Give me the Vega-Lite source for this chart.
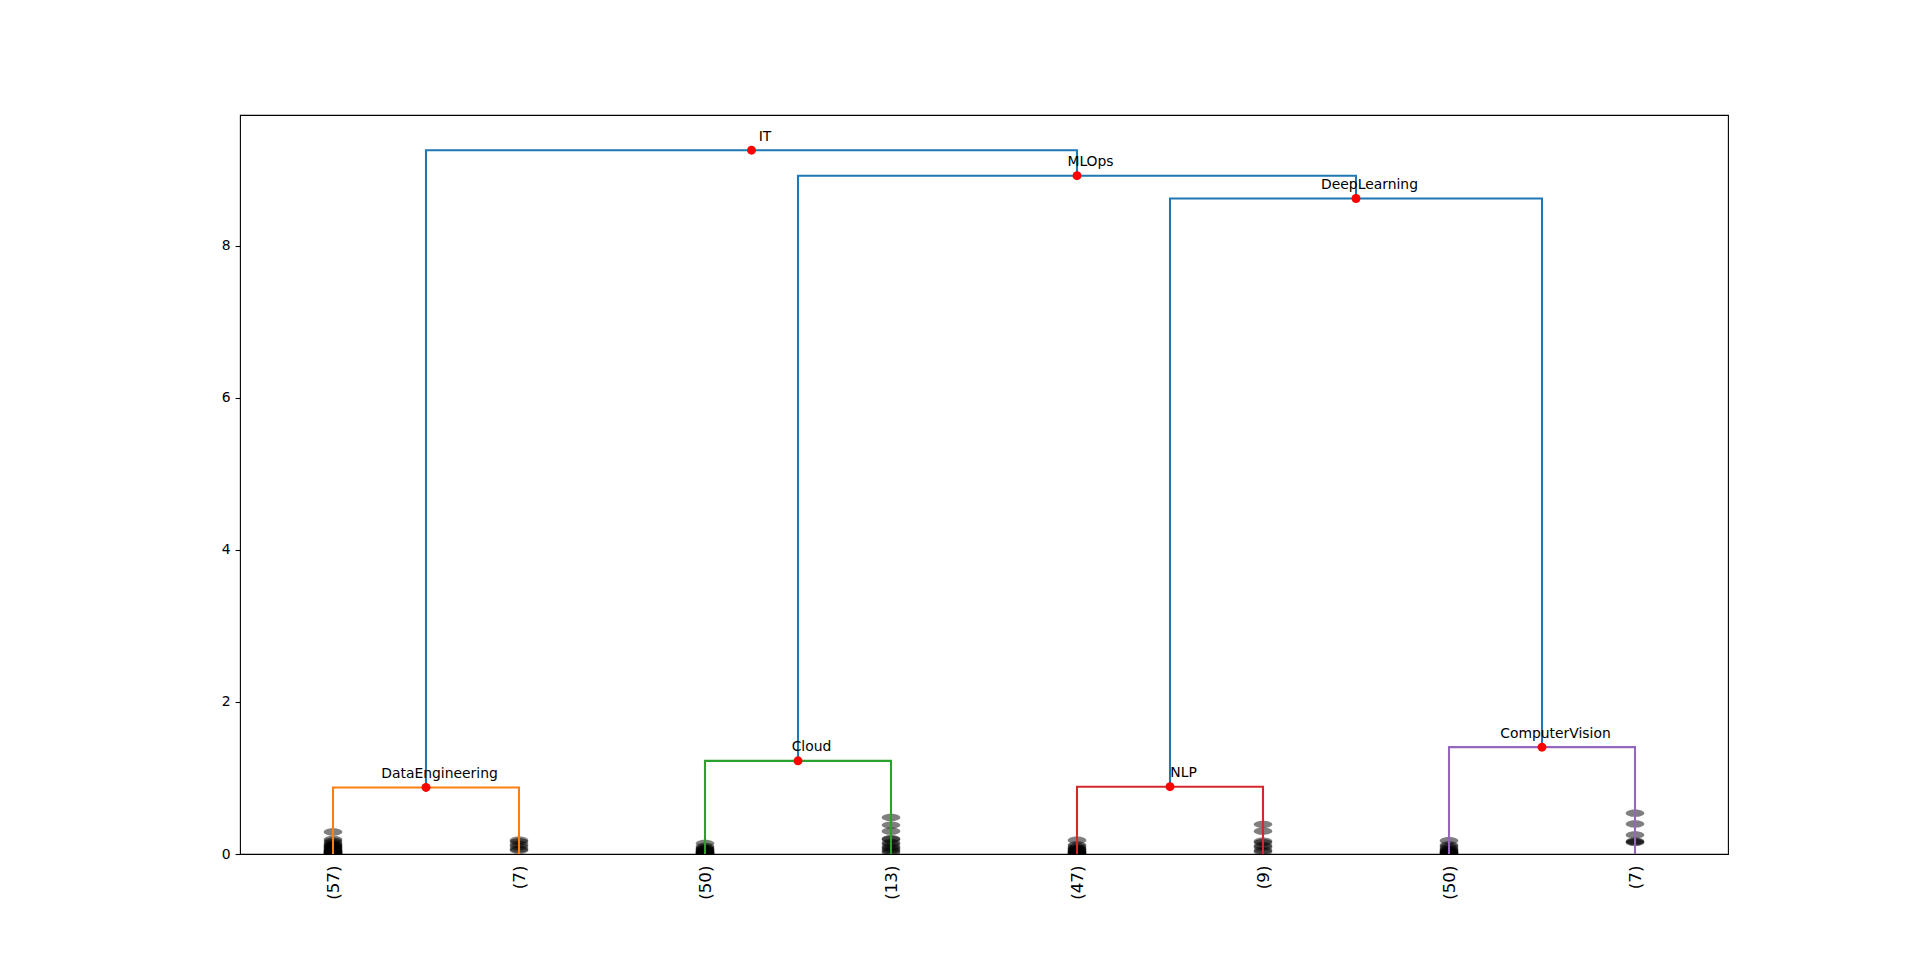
{
  "$schema": "https://vega.github.io/schema/vega-lite/v6.json",
  "autosize": {"type": "none"},
  "padding": {"left": 240, "top": 115, "right": 192, "bottom": 105},
  "width": 1488,
  "height": 739,
  "background": "white",
  "config": {
    "view": {"stroke": "#000000", "strokeWidth": 1.1},
    "font": "DejaVu Sans"
  },
  "datasets": {
    "links": [
      {"link": "DataEngineering", "ord": 1, "x": 5, "y": 0, "grp": "c1"},
      {"link": "DataEngineering", "ord": 2, "x": 5, "y": 0.875, "grp": "c1"},
      {"link": "DataEngineering", "ord": 3, "x": 15, "y": 0.875, "grp": "c1"},
      {"link": "DataEngineering", "ord": 4, "x": 15, "y": 0, "grp": "c1"},
      {"link": "Cloud", "ord": 1, "x": 25, "y": 0, "grp": "c2"},
      {"link": "Cloud", "ord": 2, "x": 25, "y": 1.225, "grp": "c2"},
      {"link": "Cloud", "ord": 3, "x": 35, "y": 1.225, "grp": "c2"},
      {"link": "Cloud", "ord": 4, "x": 35, "y": 0, "grp": "c2"},
      {"link": "NLP", "ord": 1, "x": 45, "y": 0, "grp": "c3"},
      {"link": "NLP", "ord": 2, "x": 45, "y": 0.885, "grp": "c3"},
      {"link": "NLP", "ord": 3, "x": 55, "y": 0.885, "grp": "c3"},
      {"link": "NLP", "ord": 4, "x": 55, "y": 0, "grp": "c3"},
      {"link": "ComputerVision", "ord": 1, "x": 65, "y": 0, "grp": "c4"},
      {"link": "ComputerVision", "ord": 2, "x": 65, "y": 1.405, "grp": "c4"},
      {"link": "ComputerVision", "ord": 3, "x": 75, "y": 1.405, "grp": "c4"},
      {"link": "ComputerVision", "ord": 4, "x": 75, "y": 0, "grp": "c4"},
      {"link": "DeepLearning", "ord": 1, "x": 50, "y": 0.885, "grp": "c0"},
      {"link": "DeepLearning", "ord": 2, "x": 50, "y": 8.62, "grp": "c0"},
      {"link": "DeepLearning", "ord": 3, "x": 70, "y": 8.62, "grp": "c0"},
      {"link": "DeepLearning", "ord": 4, "x": 70, "y": 1.405, "grp": "c0"},
      {"link": "MLOps", "ord": 1, "x": 30, "y": 1.225, "grp": "c0"},
      {"link": "MLOps", "ord": 2, "x": 30, "y": 8.92, "grp": "c0"},
      {"link": "MLOps", "ord": 3, "x": 60, "y": 8.92, "grp": "c0"},
      {"link": "MLOps", "ord": 4, "x": 60, "y": 8.62, "grp": "c0"},
      {"link": "IT", "ord": 1, "x": 10, "y": 0.875, "grp": "c0"},
      {"link": "IT", "ord": 2, "x": 10, "y": 9.255, "grp": "c0"},
      {"link": "IT", "ord": 3, "x": 45, "y": 9.255, "grp": "c0"},
      {"link": "IT", "ord": 4, "x": 45, "y": 8.92, "grp": "c0"}
    ],
    "nodes": [
      {"name": "DataEngineering", "x": 10, "y": 0.875},
      {"name": "Cloud", "x": 30, "y": 1.225},
      {"name": "NLP", "x": 50, "y": 0.885},
      {"name": "ComputerVision", "x": 70, "y": 1.405},
      {"name": "DeepLearning", "x": 60, "y": 8.62},
      {"name": "MLOps", "x": 45, "y": 8.92},
      {"name": "IT", "x": 27.5, "y": 9.255}
    ],
    "contractions": [
      {"x": 5, "y": 0.29}, {"x": 5, "y": 0.19}, {"x": 5, "y": 0.17}, {"x": 5, "y": 0.15},
      {"x": 5, "y": 0.13}, {"x": 5, "y": 0.12}, {"x": 5, "y": 0.11}, {"x": 5, "y": 0.1},
      {"x": 5, "y": 0.09}, {"x": 5, "y": 0.08}, {"x": 5, "y": 0.07}, {"x": 5, "y": 0.06},
      {"x": 5, "y": 0.05}, {"x": 5, "y": 0.04}, {"x": 5, "y": 0.04}, {"x": 5, "y": 0.03},
      {"x": 5, "y": 0.03}, {"x": 5, "y": 0.02}, {"x": 5, "y": 0.02}, {"x": 5, "y": 0.01},
      {"x": 5, "y": 0.01}, {"x": 5, "y": 0.0}, {"x": 5, "y": 0.0},
      {"x": 15, "y": 0.18}, {"x": 15, "y": 0.16}, {"x": 15, "y": 0.125}, {"x": 15, "y": 0.1},
      {"x": 15, "y": 0.065}, {"x": 15, "y": 0.05},
      {"x": 25, "y": 0.14}, {"x": 25, "y": 0.1}, {"x": 25, "y": 0.08}, {"x": 25, "y": 0.07},
      {"x": 25, "y": 0.06}, {"x": 25, "y": 0.05}, {"x": 25, "y": 0.04}, {"x": 25, "y": 0.03},
      {"x": 25, "y": 0.03}, {"x": 25, "y": 0.02}, {"x": 25, "y": 0.02}, {"x": 25, "y": 0.01},
      {"x": 25, "y": 0.01}, {"x": 25, "y": 0.0}, {"x": 25, "y": 0.0},
      {"x": 35, "y": 0.48}, {"x": 35, "y": 0.38}, {"x": 35, "y": 0.3}, {"x": 35, "y": 0.2},
      {"x": 35, "y": 0.19}, {"x": 35, "y": 0.15}, {"x": 35, "y": 0.13}, {"x": 35, "y": 0.1},
      {"x": 35, "y": 0.08}, {"x": 35, "y": 0.06}, {"x": 35, "y": 0.04}, {"x": 35, "y": 0.02},
      {"x": 45, "y": 0.18}, {"x": 45, "y": 0.12}, {"x": 45, "y": 0.1}, {"x": 45, "y": 0.08},
      {"x": 45, "y": 0.07}, {"x": 45, "y": 0.06}, {"x": 45, "y": 0.05}, {"x": 45, "y": 0.04},
      {"x": 45, "y": 0.03}, {"x": 45, "y": 0.02}, {"x": 45, "y": 0.02}, {"x": 45, "y": 0.01},
      {"x": 45, "y": 0.01}, {"x": 45, "y": 0.0},
      {"x": 55, "y": 0.39}, {"x": 55, "y": 0.3}, {"x": 55, "y": 0.17}, {"x": 55, "y": 0.15},
      {"x": 55, "y": 0.11}, {"x": 55, "y": 0.09}, {"x": 55, "y": 0.05}, {"x": 55, "y": 0.03},
      {"x": 65, "y": 0.175}, {"x": 65, "y": 0.12}, {"x": 65, "y": 0.1}, {"x": 65, "y": 0.08},
      {"x": 65, "y": 0.06}, {"x": 65, "y": 0.05}, {"x": 65, "y": 0.04}, {"x": 65, "y": 0.03},
      {"x": 65, "y": 0.02}, {"x": 65, "y": 0.02}, {"x": 65, "y": 0.01}, {"x": 65, "y": 0.01},
      {"x": 65, "y": 0.0},
      {"x": 75, "y": 0.535}, {"x": 75, "y": 0.395}, {"x": 75, "y": 0.25}, {"x": 75, "y": 0.17},
      {"x": 75, "y": 0.16}, {"x": 75, "y": 0.15}
    ]
  },
  "encoding": {
    "x": {
      "field": "x",
      "type": "quantitative",
      "scale": {"domain": [0, 80], "nice": false, "zero": false},
      "axis": {
        "title": null,
        "values": [5, 15, 25, 35, 45, 55, 65, 75],
        "labelExpr": "datum.value == 5 ? '(57)' : datum.value == 15 ? '(7)' : datum.value == 25 ? '(50)' : datum.value == 35 ? '(13)' : datum.value == 45 ? '(47)' : datum.value == 55 ? '(9)' : datum.value == 65 ? '(50)' : '(7)'",
        "labelAngle": 270,
        "labelAlign": "right",
        "labelBaseline": "middle",
        "labelFont": "DejaVu Sans",
        "labelFontSize": 16.7,
        "labelColor": "#000000",
        "labelPadding": 11,
        "ticks": false,
        "domain": false,
        "grid": false,
        "labelOverlap": false,
        "labelFlush": false
      }
    },
    "y": {
      "field": "y",
      "type": "quantitative",
      "scale": {"domain": [0, 9.718], "nice": false, "zero": false},
      "axis": {
        "title": null,
        "values": [0, 2, 4, 6, 8],
        "labelFont": "DejaVu Sans",
        "labelFontSize": 13.9,
        "labelColor": "#000000",
        "tickColor": "#000000",
        "tickSize": 4.9,
        "tickWidth": 1.1,
        "labelPadding": 4.9,
        "domain": false,
        "grid": false,
        "labelFlush": false,
        "labelOverlap": false
      }
    }
  },
  "layer": [
    {
      "data": {"name": "contractions"},
      "mark": {
        "type": "point",
        "shape": "M -1 0 A 1 0.397 0 1 1 1 0 A 1 0.397 0 1 1 -1 0 Z",
        "filled": true,
        "fill": "#000000",
        "fillOpacity": 0.5,
        "opacity": 1,
        "strokeWidth": 0,
        "size": 346,
        "clip": true
      }
    },
    {
      "data": {"name": "links"},
      "mark": {"type": "line", "strokeWidth": 2.08, "strokeCap": "butt", "strokeJoin": "miter", "clip": true},
      "encoding": {
        "detail": {"field": "link"},
        "order": {"field": "ord", "type": "quantitative"},
        "color": {
          "field": "grp",
          "type": "nominal",
          "scale": {"domain": ["c0", "c1", "c2", "c3", "c4"], "range": ["#1f77b4", "#ff7f0e", "#2ca02c", "#d62728", "#9467bd"]},
          "legend": null
        }
      }
    },
    {
      "data": {"name": "nodes"},
      "mark": {"type": "circle", "size": 80, "color": "#ff0000", "opacity": 1}
    },
    {
      "data": {"name": "nodes"},
      "mark": {"type": "text", "font": "DejaVu Sans", "fontSize": 13.9, "color": "#000000", "align": "center", "baseline": "middle", "dx": 13.5, "dy": -13.5},
      "encoding": {"text": {"field": "name"}}
    }
  ]
}
